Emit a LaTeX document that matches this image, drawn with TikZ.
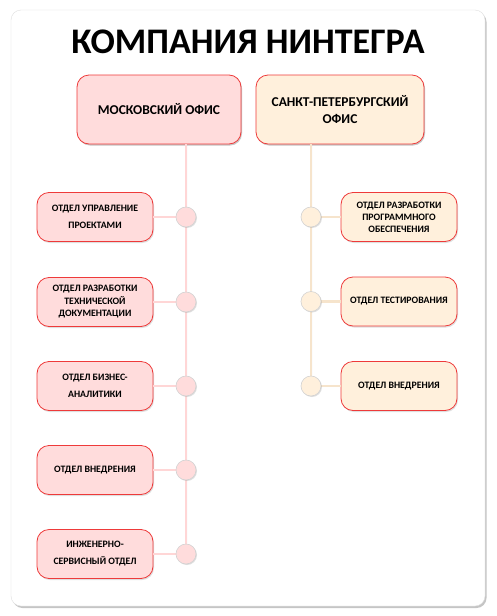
\documentclass[tikz,border=0pt]{standalone}
\usepackage{fontspec}
\setmainfont{Carlito}
\usetikzlibrary{shadows}
\definecolor{pinkfill}{HTML}{FFDCDC}
\definecolor{peachfill}{HTML}{FFF0DC}
\definecolor{boxborder}{HTML}{EE3A3A}
\definecolor{pinkline}{HTML}{FFD6D6}
\definecolor{peachline}{HTML}{F6E4CC}
\tikzset{
  box/.style={draw=boxborder, line width=0.8pt, rounded corners=12pt, align=center,
    font=\bfseries\fontsize{9.8}{17}\selectfont, minimum width=116pt, minimum height=49pt, inner sep=2pt,
    drop shadow={opacity=0.25, shadow xshift=1pt, shadow yshift=-1.5pt}},
  office/.style={box, font=\bfseries\fontsize{13.5}{17}\selectfont, minimum height=69pt},
  mbox/.style={box, fill=pinkfill},
  sbox/.style={box, fill=peachfill},
  dot/.style={circle, minimum size=20pt, inner sep=0pt, draw=gray!35, line width=0.6pt,
    drop shadow={opacity=0.25, shadow xshift=1pt, shadow yshift=-1pt}},
  mline/.style={draw=pinkline, line width=2.5pt},
  sline/.style={draw=peachline, line width=2.5pt},
}
\begin{document}
\begin{tikzpicture}[x=1pt,y=-1pt]
\useasboundingbox (0,0) rectangle (496,616);
\fill[white] (0,0) rectangle (496,616);
\node[draw=gray!25, fill=white, rounded corners=10pt, minimum width=474pt, minimum height=596pt,
  drop shadow={opacity=0.45, shadow xshift=1.5pt, shadow yshift=-2pt}] (frame) at (248,308) {};
\node[font=\bfseries\fontsize{36}{40}\selectfont] (title) at (248,42) {КОМПАНИЯ НИНТЕГРА};

\node[mbox, office, minimum width=164pt] (msk) at (159,109.5) {МОСКОВСКИЙ ОФИС};
\node[sbox, office, minimum width=168pt] (spb) at (340,109.5) {САНКТ-ПЕТЕРБУРГСКИЙ\\ОФИС};

% left column
\node[mbox] (m1) at (95,217) {ОТДЕЛ УПРАВЛЕНИЕ\\ПРОЕКТАМИ};
\node[mbox, font=\bfseries\fontsize{9.8}{12.5}\selectfont] (m2) at (95,302) {ОТДЕЛ РАЗРАБОТКИ\\ТЕХНИЧЕСКОЙ\\ДОКУМЕНТАЦИИ};
\node[mbox] (m3) at (95,386) {ОТДЕЛ БИЗНЕС-\\АНАЛИТИКИ};
\node[mbox] (m4) at (95,470) {ОТДЕЛ ВНЕДРЕНИЯ};
\node[mbox] (m5) at (95,554) {ИНЖЕНЕРНО-\\СЕРВИСНЫЙ ОТДЕЛ};

% right column
\node[sbox, font=\bfseries\fontsize{9.8}{12}\selectfont] (s1) at (399,217) {ОТДЕЛ РАЗРАБОТКИ\\ПРОГРАММНОГО\\ОБЕСПЕЧЕНИЯ};
\node[sbox] (s2) at (399,301.5) {ОТДЕЛ ТЕСТИРОВАНИЯ};
\node[sbox] (s3) at (399,386) {ОТДЕЛ ВНЕДРЕНИЯ};

% dot positions
\coordinate (cm1) at (186,217);
\coordinate (cm2) at (186,302);
\coordinate (cm3) at (186,386);
\coordinate (cm4) at (186,470);
\coordinate (cm5) at (186,554);
\coordinate (cs1) at (311,217);
\coordinate (cs2) at (311,301.5);
\coordinate (cs3) at (311,386);

% trunks
\draw[mline, drop shadow={opacity=0.2, shadow xshift=1.5pt, shadow yshift=0pt}] (msk.south -| cm1) -- (cm5);
\draw[sline, drop shadow={opacity=0.2, shadow xshift=1.5pt, shadow yshift=0pt}] (spb.south -| cs1) -- (cs3);

% branches and dots
\foreach \i in {1,...,5}{
  \draw[mline] (m\i.east) -- (cm\i);
  \node[dot, fill=pinkfill] (dm\i) at (cm\i) {};
}
\foreach \i in {1,2,3}{
  \draw[sline] (s\i.west) -- (cs\i);
  \node[dot, fill=peachfill] (ds\i) at (cs\i) {};
}
\end{tikzpicture}
\end{document}
